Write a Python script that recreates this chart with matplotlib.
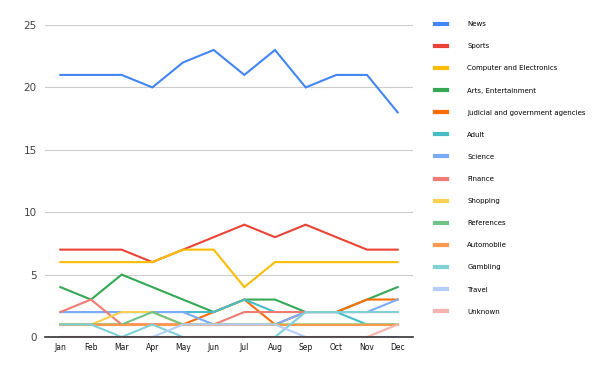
import matplotlib
matplotlib.use("Agg")
import matplotlib.pyplot as plt

months = ["Jan", "Feb", "Mar", "Apr", "May", "Jun", "Jul", "Aug", "Sep", "Oct", "Nov", "Dec"]

news = [21, 21, 21, 20, 22, 23, 21, 23, 20, 21, 21, 18]
sports = [7, 7, 7, 6, 7, 8, 9, 8, 9, 8, 7, 7]
computer = [6, 6, 6, 6, 7, 7, 4, 6, 6, 6, 6, 6]
arts = [4, 3, 5, 4, 3, 2, 3, 3, 2, 2, 3, 4]
judicial = [1, 1, 1, 1, 1, 2, 3, 1, 2, 2, 3, 3]
adult = [2, 2, 2, 2, 2, 2, 3, 2, 2, 2, 1, 1]
science = [2, 2, 2, 2, 2, 1, 1, 1, 2, 2, 2, 3]
finance = [2, 3, 1, 1, 1, 1, 2, 2, 2, 2, 2, 2]
shopping = [1, 1, 2, 2, 1, 1, 1, 1, 1, 1, 1, 1]
references = [1, 1, 1, 2, 1, 1, 1, 1, 1, 1, 1, 1]
automobile = [1, 1, 1, 1, 1, 1, 1, 1, 1, 1, 1, 1]
gambling = [1, 1, 0, 1, 0, 0, 0, 0, 2, 2, 2, 2]
travel = [0, 0, 0, 0, 1, 1, 1, 1, 0, 0, 0, 0]
unknown = [0, 0, 0, 0, 0, 0, 0, 0, 0, 0, 0, 1]

series = [
    ("News", news, "#4285F4"),
    ("Sports", sports, "#EA4335"),
    ("Computer and Electronics", computer, "#FBBC04"),
    ("Arts, Entertainment", arts, "#34A853"),
    ("Judicial and government agencies", judicial, "#FF6D01"),
    ("Adult", adult, "#46BDC6"),
    ("Science", science, "#7BAAF7"),
    ("Finance", finance, "#F07B72"),
    ("Shopping", shopping, "#FCD04F"),
    ("References", references, "#71C287"),
    ("Automobile", automobile, "#FF994D"),
    ("Gambling", gambling, "#7ED1D7"),
    ("Travel", travel, "#B3CEFB"),
    ("Unknown", unknown, "#F7B4AE"),
]

fig = plt.figure(figsize=(6, 3.71), dpi=100)
ax = fig.add_axes([45 / 600, 1 - 337 / 371, (413 - 45) / 600, (337 - 25) / 371])

x = list(range(len(months)))
for name, vals, col in series:
    ax.plot(x, vals, color=col, lw=1.5, label=name, solid_joinstyle="miter")

ax.set_xlim(-0.5, 11.5)
ax.set_ylim(0, 25)
ax.set_yticks([0, 5, 10, 15, 20, 25])
ax.set_xticks(x)
ax.set_xticklabels(months, fontsize=5.5, color="#111111")
ax.tick_params(axis="y", labelsize=7.5, colors="#444444", length=0, pad=6)
ax.tick_params(axis="x", length=0, pad=4)
ax.grid(axis="y", color="#cccccc", lw=0.8)
ax.set_axisbelow(True)
for s in ["top", "right", "left"]:
    ax.spines[s].set_visible(False)
ax.spines["bottom"].set_color("#333333")
ax.spines["bottom"].set_linewidth(1.2)
ax.spines["bottom"].set_zorder(5)

leg = fig.legend(loc="upper left", bbox_to_anchor=(429 / 600, 1 - 15 / 371), frameon=False,
                 fontsize=5, labelspacing=2.32, handlelength=1.7, handletextpad=2.9)
for h in leg.get_lines():
    h.set_linewidth(3)

fig.savefig("out.png", dpi=100)
